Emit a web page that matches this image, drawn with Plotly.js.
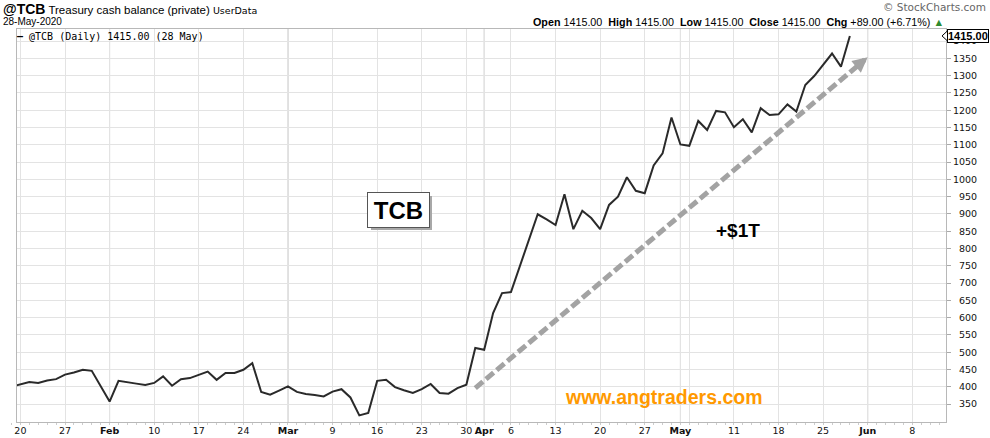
<!DOCTYPE html>
<html><head><meta charset="utf-8">
<script src="https://cdn.plot.ly/plotly-3.0.1.min.js"></script>
<style>html,body{margin:0;padding:0;background:#fff}#chart{width:990px;height:438px}</style>
</head><body><div id="chart"></div>
<script>
// Trading days (weekdays; Treasury holidays Jan 20, Feb 17, May 25 absent)
const dates = [
 '2020-01-17','2020-01-21','2020-01-22','2020-01-23','2020-01-24',
 '2020-01-27','2020-01-28','2020-01-29','2020-01-30','2020-01-31',
 '2020-02-03','2020-02-04','2020-02-05','2020-02-06','2020-02-07',
 '2020-02-10','2020-02-11','2020-02-12','2020-02-13','2020-02-14',
 '2020-02-18','2020-02-19','2020-02-20','2020-02-21',
 '2020-02-24','2020-02-25','2020-02-26','2020-02-27','2020-02-28',
 '2020-03-02','2020-03-03','2020-03-04','2020-03-05','2020-03-06',
 '2020-03-09','2020-03-10','2020-03-11','2020-03-12','2020-03-13',
 '2020-03-16','2020-03-17','2020-03-18','2020-03-19','2020-03-20',
 '2020-03-23','2020-03-24','2020-03-25','2020-03-26','2020-03-27',
 '2020-03-30','2020-03-31','2020-04-01','2020-04-02','2020-04-03',
 '2020-04-06','2020-04-07','2020-04-08','2020-04-09','2020-04-10',
 '2020-04-13','2020-04-14','2020-04-15','2020-04-16','2020-04-17',
 '2020-04-20','2020-04-21','2020-04-22','2020-04-23','2020-04-24',
 '2020-04-27','2020-04-28','2020-04-29','2020-04-30','2020-05-01',
 '2020-05-04','2020-05-05','2020-05-06','2020-05-07','2020-05-08',
 '2020-05-11','2020-05-12','2020-05-13','2020-05-14','2020-05-15',
 '2020-05-18','2020-05-19','2020-05-20','2020-05-21','2020-05-22',
 '2020-05-26','2020-05-27','2020-05-28'
];
const tcbValues = [
 400,414,411,418,422,
 435,441,449,446,402,
 357,417,414,409,405,
 411,430,403,422,425,
 444,420,440,440,
 449,468,385,377,389,
 401,385,379,376,372,
 386,393,369,317,324,
 417,420,399,390,382,
 393,408,382,380,396,
 406,512,507,613,671,
 674,750,825,899,884,
 868,957,856,909,888,
 856,926,950,1006,967,
 960,1040,1075,1179,1101,
 1097,1169,1143,1198,1194,
 1151,1174,1136,1206,1186,
 1188,1217,1196,1273,1299,
 1364,1326,1415
];
const yTickVals = [350,400,450,500,550,600,650,700,750,800,850,900,950,1000,1050,1100,1150,1200,1250,1300,1350,1400];
const xTickVals = ['2020-01-20','2020-01-27','2020-02-03','2020-02-10','2020-02-17','2020-02-24',
 '2020-03-02','2020-03-09','2020-03-16','2020-03-23','2020-03-30','2020-04-01','2020-04-06',
 '2020-04-13','2020-04-20','2020-04-27','2020-05-01','2020-05-04','2020-05-11','2020-05-18',
 '2020-05-25','2020-06-01','2020-06-08'];
const xTickLabels = ['20','27','Feb','10','17','24','Mar','9','16','23','30','Apr','6',
 '13','20','27','May','','11','18','25','Jun','8'];
const monthStarts = ['2020-02-03','2020-03-02','2020-04-01','2020-05-01','2020-06-01'];
const monthNames = ['Feb','Mar','Apr','May','Jun'];
const lastValue = 1415.00, change = 89.00, changePct = 6.71;
// trend arrow (annotation) endpoints
const arrowStart = ['2020-03-31', 396];
const arrowShaftEnd = ['2020-05-28 19:12', 1327];
const arrowTip = ['2020-06-01', 1353];

const W = 990, H = 438, L = 17, R = 44, T = 29, B = 16;
const pw = W - L - R, ph = H - T - B;
const px = x => (x - L) / pw;
const py = y => (H - B - y) / ph;

const ticktextX = xTickLabels.map(l => monthNames.includes(l) ? '<b>' + l + '</b>' : l);
const ticktextY = yTickVals.map(v => String(v).padStart(4, '\u2007'));

const trace = {
  x: dates, y: tcbValues, type: 'scatter', mode: 'lines',
  line: {color: '#2a2a2a', width: 2}, hoverinfo: 'skip', name: '@TCB'
};

const tickFont = {family: 'DejaVu Sans', size: 9.5, color: '#111'};
const shapes = monthStarts.map(d => ({
  type: 'line', xref: 'x', yref: 'paper', x0: d, x1: d, y0: 0, y1: 1,
  line: {color: '#bdbdbd', width: 1}, layer: 'between'
}));
shapes.push({
  type: 'line', xref: 'x', yref: 'y',
  x0: arrowStart[0], y0: arrowStart[1], x1: arrowShaftEnd[0], y1: arrowShaftEnd[1],
  line: {color: '#a3a3a3', width: 5, dash: '10px,4px'}, layer: 'above'
});
// notch of the last-value tag on the price axis
const unitsPerPx = (1435 - 298) / ph;
shapes.push({
  type: 'path', xref: 'paper', yref: 'y',
  path: 'M' + px(942) + ',' + lastValue + ' L' + px(948) + ',' + (lastValue + 5.5 * unitsPerPx) +
        ' L' + px(948) + ',' + (lastValue - 5.5 * unitsPerPx) + ' Z',
  fillcolor: '#fff', line: {color: '#000', width: 1}, layer: 'above'
});

const fmt = v => v.toFixed(2);
const annotations = [
  {xref:'paper', yref:'paper', x:px(1), y:py(9), xanchor:'left', yanchor:'middle', showarrow:false,
   text:'<span style="font-size:14px;font-weight:bold">@TCB</span> Treasury cash balance (private) <span style="font-family:DejaVu Sans;font-size:9.5px">UserData</span>',
   font:{family:'Liberation Sans', size:11.5, color:'#000'}},
  {xref:'paper', yref:'paper', x:px(1), y:py(21.5), xanchor:'left', yanchor:'middle', showarrow:false,
   text:'28-May-2020', font:{family:'Liberation Sans', size:10, color:'#000'}},
  {xref:'paper', yref:'paper', x:px(988), y:py(7), xanchor:'right', yanchor:'middle', showarrow:false,
   text:'\u00a9 StockCharts.com', font:{family:'DejaVu Sans', size:10.5, color:'#666'}},
  {xref:'paper', yref:'paper', x:px(946), y:py(22), xanchor:'right', yanchor:'middle', showarrow:false,
   text:'<b>Open</b> ' + fmt(lastValue) + '  <b>High</b> ' + fmt(lastValue) + '  <b>Low</b> ' + fmt(lastValue) +
        '  <b>Close</b> ' + fmt(lastValue) + '  <b>Chg</b> +' + fmt(change) + ' (+' + changePct.toFixed(2) + '%) <span style="color:#2e8b2e">\u25b2</span>',
   font:{family:'Liberation Sans', size:10.75, color:'#000'}},
  {xref:'paper', yref:'paper', x:px(15), y:py(36), xanchor:'left', yanchor:'middle', showarrow:false,
   text:'<b>\u2014</b> @TCB (Daily) ' + fmt(lastValue) + ' (28 May)',
   font:{family:'DejaVu Sans Mono', size:10, color:'#000'}},
  // TCB box shadow + box
  {xref:'paper', yref:'paper', x:px(401), y:py(213), xanchor:'center', yanchor:'middle', showarrow:false,
   text:' ', width:61, height:34, bgcolor:'#a8a8a8', borderpad:0, borderwidth:0},
  {xref:'paper', yref:'paper', x:px(398), y:py(210), xanchor:'center', yanchor:'middle', showarrow:false,
   text:'<b>TCB</b>', width:61, height:34, bgcolor:'#ffffff', bordercolor:'#555', borderwidth:1, borderpad:0,
   font:{family:'Liberation Sans', size:24, color:'#000'}},
  {xref:'paper', yref:'paper', x:px(738), y:py(230), xanchor:'center', yanchor:'middle', showarrow:false,
   text:'<b>+$1T</b>', font:{family:'Liberation Sans', size:19, color:'#000'}},
  {xref:'paper', yref:'paper', x:px(664), y:py(397), xanchor:'center', yanchor:'middle', showarrow:false,
   text:'<b>www.angtraders.com</b>', font:{family:'Liberation Sans', size:19.5, color:'#ff9900'}},
  // arrow head
  {xref:'x', yref:'y', x:arrowTip[0], y:arrowTip[1], ax:-11, ay:9, axref:'pixel', ayref:'pixel',
   text:'', showarrow:true, arrowhead:2, arrowsize:0.6, arrowwidth:5, arrowcolor:'#a3a3a3'},
  // last value tag on the axis
  {xref:'paper', yref:'y', x:1, y:lastValue, xanchor:'left', yanchor:'middle', xshift:1, showarrow:false,
   text:'<b>' + fmt(lastValue) + '</b>', bgcolor:'#fff', bordercolor:'#000', borderwidth:1, borderpad:0,
   font:{family:'Liberation Sans', size:11, color:'#000'}}
];

const layout = {
  width: W, height: H,
  margin: {l: L, r: R, t: T, b: B, pad: 0},
  paper_bgcolor: '#fff', plot_bgcolor: '#fff',
  showlegend: false,
  xaxis: {
    type: 'date', range: ['2020-01-17 14:50', '2020-06-11 18:40'],
    rangebreaks: [{bounds: ['sat', 'mon']}],
    tickmode: 'array', tickvals: xTickVals, ticktext: ticktextX,
    showgrid: true, gridcolor: '#e3e3e3', gridwidth: 1,
    showline: true, linecolor: '#b8b8b8', linewidth: 1, mirror: true,
    ticks: '', tickfont: tickFont, zeroline: false, fixedrange: true,
    minor: {ticks: 'outside', ticklen: 2, tickcolor: '#cccccc', dtick: 86400000, showgrid: false}
  },
  yaxis: {
    side: 'right', range: [298, 1435],
    tickmode: 'array', tickvals: yTickVals, ticktext: ticktextY,
    ticks: 'outside', ticklen: 4, tickcolor: '#aaaaaa',
    showgrid: true, gridcolor: '#e3e3e3', gridwidth: 1,
    showline: true, linecolor: '#b8b8b8', linewidth: 1, mirror: true,
    zeroline: false, tickfont: tickFont, fixedrange: true
  },
  shapes: shapes,
  annotations: annotations
};

Plotly.newPlot('chart', [trace], layout, {displayModeBar: false, staticPlot: true});
</script>
</body></html>
